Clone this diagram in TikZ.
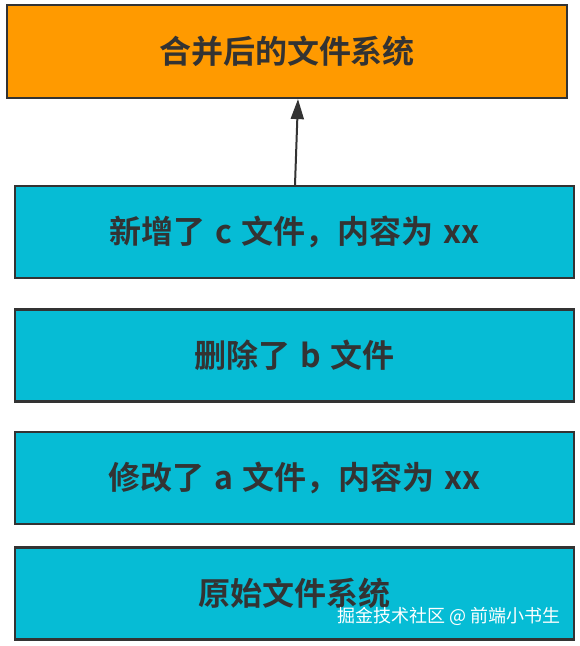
\documentclass[tikz,border=0pt]{standalone}
\usepackage{fontspec}
\setmainfont{Noto Sans CJK SC}[BoldFont={Noto Sans CJK SC Bold}]
\newfontfamily\cjk{Noto Sans CJK SC}
\usetikzlibrary{arrows.meta}
\definecolor{orangebox}{HTML}{FF9A00}
\definecolor{cyanbox}{HTML}{06BCD5}
\definecolor{edge}{HTML}{333333}
\newcommand{\gapw}{\hspace{10pt}}
\begin{document}
\begin{tikzpicture}[x=1pt,y=-1pt,
  layer/.style={draw=edge, line width=2.2pt, minimum width=559pt, minimum height=92pt,
    inner sep=0pt, font=\fontsize{32}{36}\selectfont\bfseries, text=edge},
  cyanlayer/.style={layer, fill=cyanbox},
  toplayer/.style={layer, fill=orangebox, minimum width=560pt, minimum height=93pt}]
\useasboundingbox (0,0) rectangle (580,646);
\node[toplayer] (top) at (287,51.5) {合并后的文件系统};
\node[cyanlayer] (b1) at (294.5,232) {新增了\gapw c\gapw 文件，内容为\gapw xx};
\node[cyanlayer] (b2) at (294.5,355.5) {删除了\gapw b\gapw 文件};
\node[cyanlayer] (b3) at (294.5,478) {修改了\gapw a\gapw 文件，内容为\gapw xx};
\node[cyanlayer] (b4) at (294.5,593.5) {原始文件系统};
\draw[draw=edge, line width=2pt, -{Triangle[length=20pt,width=13pt]}]
  ([xshift=0.5pt]b1.north) -- ([xshift=11pt]top.south);
\node[anchor=east, text=white, inner sep=0pt, font=\cjk\fontsize{18}{20}\selectfont] (wm) at (561,616) {掘金技术社区 @ 前端小书生};
\end{tikzpicture}
\end{document}
